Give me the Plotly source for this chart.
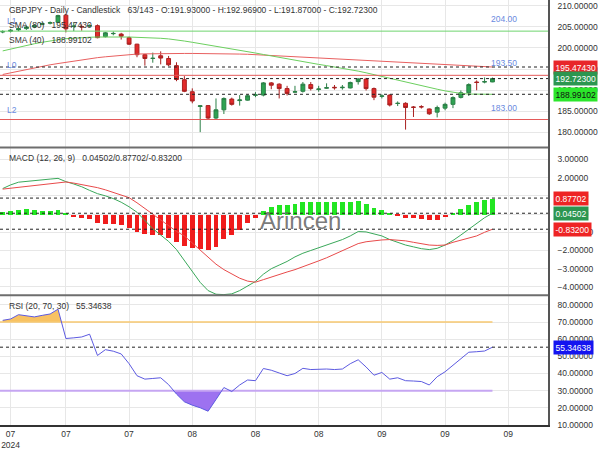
import plotly.graph_objects as go

# ---------------- data ----------------
bars = list(range(63))
opens = [203.8, 204.0, 204.3, 204.6, 205.0, 205.6, 205.9, 206.1, 207.8, 205.1,
         205.1, 205.2, 205.3, 202.7, 203.4, 203.3, 202.45, 200.9, 198.4, 197.5,
         198.15, 197.5, 195.8, 192.45, 189.6, 186.1, 186.3, 183.35, 185.3, 187.85,
         187.5, 187.6, 188.75, 188.8, 191.7, 191.4, 190.35, 189.5, 189.7, 191.3,
         190.15, 190.45, 190.65, 190.55, 190.5, 192.0, 192.6, 190.35, 188.5, 188.8,
         186.8, 186.85, 185.95, 186.05, 185.5, 184.75, 185.7, 186.6, 188.25, 189.35,
         191.9, 191.9, 191.93]
highs = [204.2, 204.5, 204.9, 205.3, 205.6, 206.1, 206.3, 207.9, 208.1, 206.0,
         205.6, 205.6, 205.6, 203.8, 203.9, 203.6, 202.7, 201.0, 198.6, 198.9,
         199.2, 198.1, 196.6, 193.3, 190.4, 186.35, 186.45, 188.0, 188.25, 188.2,
         188.8, 188.9, 189.5, 191.9, 191.9, 191.6, 191.0, 191.0, 191.9, 191.9,
         191.0, 191.6, 191.2, 191.2, 192.0, 192.8, 192.9, 190.6, 189.0, 189.0,
         187.3, 187.1, 186.2, 186.4, 185.6, 186.3, 187.0, 188.5, 189.9, 191.6,
         192.3, 193.0, 192.969]
lows = [203.5, 203.7, 204.0, 204.3, 204.7, 205.4, 205.6, 205.9, 203.7, 204.0,
        204.1, 205.0, 202.3, 202.5, 203.0, 202.0, 200.7, 197.8, 195.8, 196.5,
        196.1, 195.7, 192.1, 189.5, 186.85, 180.0, 183.0, 183.1, 184.3, 186.3,
        186.3, 187.5, 188.3, 188.5, 190.2, 188.0, 188.7, 189.4, 189.4, 189.9,
        189.6, 190.3, 190.1, 190.1, 190.4, 191.3, 189.9, 187.6, 188.0, 186.1,
        186.2, 180.6, 183.6, 185.6, 184.1, 183.5, 185.2, 185.7, 188.0, 188.6,
        189.95, 191.6, 191.87]
closes = [203.9, 204.2, 204.6, 205.0, 205.3, 205.8, 206.0, 207.7, 204.55, 205.2,
          205.0, 205.3, 202.45, 203.6, 203.45, 202.8, 200.9, 198.4, 197.5, 197.55,
          197.6, 196.0, 192.5, 189.7, 187.4, 186.25, 183.35, 185.3, 188.0, 186.6,
          187.65, 188.65, 188.85, 191.7, 191.15, 190.35, 189.2, 189.6, 191.4, 190.35,
          190.25, 190.55, 190.55, 190.65, 191.8, 192.65, 190.35, 188.3, 188.6, 186.45,
          186.85, 185.85, 185.9, 186.0, 184.35, 185.85, 186.6, 188.2, 189.35, 191.3,
          191.8, 192.0, 192.723]
sma80 = [193.7, 194.1, 194.5, 194.9, 195.3, 195.6, 196.0, 196.3, 196.6, 196.9,
         197.2, 197.45, 197.7, 197.9, 198.1, 198.3, 198.45, 198.55, 198.6, 198.65,
         198.7, 198.7, 198.7, 198.7, 198.7, 198.7, 198.7, 198.7, 198.65, 198.6,
         198.55, 198.5, 198.4, 198.3, 198.2, 198.1, 198.0, 197.85, 197.75, 197.6,
         197.5, 197.4, 197.3, 197.25, 197.2, 197.1, 197.0, 196.9, 196.8, 196.7,
         196.6, 196.45, 196.35, 196.25, 196.1, 196.0, 195.9, 195.8, 195.75, 195.65,
         195.6, 195.55, 195.4743]
sma40 = [199.3, 199.75, 200.2, 200.6, 201.0, 201.35, 201.7, 201.95, 202.2, 202.35,
         202.45, 202.55, 202.6, 202.65, 202.65, 202.6, 202.6, 202.55, 202.5, 202.4,
         202.3, 202.15, 201.95, 201.65, 201.35, 201.05, 200.75, 200.45, 200.15, 199.8,
         199.45, 199.1, 198.8, 198.45, 198.1, 197.7, 197.35, 197.0, 196.7, 196.4,
         196.1, 195.8, 195.5, 195.2, 194.9, 194.5, 194.1, 193.65, 193.2, 192.75,
         192.3, 191.85, 191.4, 191.0, 190.6, 190.2, 189.8, 189.45, 189.2, 189.05,
         189.0, 188.99, 188.99102]
macd_line = [1.40, 1.60, 1.75, 1.80, 1.84, 1.88, 1.92, 1.96, 1.78, 1.65,
             1.50, 1.30, 1.12, 1.00, 0.85, 0.65, 0.40, 0.10, -0.35, -0.80,
             -1.15, -1.50, -1.95, -2.55, -3.20, -3.75, -4.20, -4.40, -4.42, -4.38,
             -4.20, -3.95, -3.70, -3.30, -3.00, -2.80, -2.60, -2.35, -2.15, -2.00,
             -1.85, -1.70, -1.55, -1.40, -1.20, -0.96, -0.98, -1.10, -1.20, -1.40,
             -1.55, -1.70, -1.80, -1.90, -1.95, -1.88, -1.70, -1.45, -1.15, -0.85,
             -0.50, -0.20, 0.04502]
macd_signal = [1.37, 1.42, 1.47, 1.52, 1.57, 1.63, 1.68, 1.74, 1.76, 1.70,
               1.62, 1.56, 1.45, 1.33, 1.20, 1.06, 0.90, 0.62, 0.30, -0.02,
               -0.35, -0.65, -0.95, -1.20, -1.60, -2.00, -2.40, -2.75, -3.05, -3.30,
               -3.52, -3.68, -3.74, -3.60, -3.45, -3.32, -3.18, -3.05, -2.90, -2.75,
               -2.57, -2.40, -2.20, -2.00, -1.80, -1.62, -1.52, -1.45, -1.42, -1.40,
               -1.42, -1.47, -1.55, -1.63, -1.70, -1.72, -1.70, -1.55, -1.42, -1.32,
               -1.20, -1.00, -0.832]
macd_hist = [0.12, 0.17, 0.24, 0.28, 0.24, 0.21, 0.19, 0.24, 0.03, -0.15,
             -0.19, -0.22, -0.47, -0.51, -0.54, -0.60, -0.72, -0.96, -1.08, -1.14,
             -1.14, -1.30, -1.51, -1.71, -1.82, -1.91, -1.94, -1.76, -1.37, -1.14,
             -0.87, -0.47, -0.20, 0.21, 0.39, 0.51, 0.53, 0.57, 0.69, 0.69,
             0.69, 0.69, 0.66, 0.66, 0.69, 0.75, 0.60, 0.35, 0.24, 0.03,
             -0.10, -0.19, -0.20, -0.22, -0.28, -0.28, -0.11, 0.06, 0.28, 0.51,
             0.69, 0.80, 0.87702]
rsi = [71.0, 71.8, 74.3, 73.7, 73.0, 73.9, 74.7, 77.5, 60.4, 60.8,
       61.3, 62.9, 50.5, 53.9, 53.0, 51.4, 45.7, 38.7, 36.7, 37.1,
       37.5, 33.5, 28.0, 23.5, 21.5, 20.0, 18.0, 24.8, 31.8, 29.5,
       33.3, 36.2, 35.8, 42.9, 41.9, 40.3, 38.7, 40.0, 43.0, 42.3,
       42.5, 42.6, 42.3, 42.6, 45.7, 48.0, 43.8, 39.0, 40.6, 36.7,
       37.5, 35.8, 35.6, 35.3, 33.3, 38.1, 41.0, 44.8, 48.6, 52.4,
       52.7, 53.1, 55.34638]
for arr in (opens, highs, lows, closes, sma80, sma40, macd_line, macd_signal, macd_hist, rsi):
    assert len(arr) == len(bars)

tick_bars = [1, 8, 16, 24, 32, 40, 48, 56, 64]
tick_text = ["07<br>2024", "07", "07", "08", "08", "08", "09", "09", "09"]
price_ticks = [180, 185, 190, 195, 200, 205, 210]
macd_ticks = [-4, -3, -2, -1, 0, 1, 2, 3]
rsi_ticks = [10, 20, 30, 40, 50, 60, 70, 80]

level_values = [204.0, 193.5, 183.0]
level_names = ["L1", "L0", "L2"]
level_colors = ["#6fd56f", "#e45a5a", "#e45a5a"]
sma80_last = 195.47430
sma40_last = 188.99102
close_last = 192.72300
rsi_over, rsi_under = 70, 30

# ---------------- layout geometry ----------------
W, H = 600, 450
ML, MR, MT, MB = 0, 52, 0, 18
PW, PH = W - ML - MR, H - MT - MB
D_PRICE = [1 - 150 / PH, 1]
D_MACD = [1 - 300 / PH, 1 - 150 / PH]
D_RSI = [0, 1 - 300 / PH]
XR = [-0.342, 69.03]

FONT = "Liberation Sans, Arial, sans-serif"
TXT = "#333333"

def px_x(px):
    return px / PW

def px_y(py):
    return 1 - py / PH

fig = go.Figure()

# candles
fig.add_trace(go.Candlestick(
    x=bars, open=opens, high=highs, low=lows, close=closes,
    increasing=dict(fillcolor="#2ea352", line=dict(color="#2b7f46", width=1)),
    decreasing=dict(fillcolor="#e32a2a", line=dict(color="#a82020", width=1)),
    whiskerwidth=0, xaxis="x", yaxis="y", showlegend=False, hoverinfo="skip"))
fig.add_trace(go.Scatter(x=bars, y=sma80, mode="lines", line=dict(color="#e86060", width=1),
                         xaxis="x", yaxis="y", hoverinfo="skip"))
fig.add_trace(go.Scatter(x=bars, y=sma40, mode="lines", line=dict(color="#6ccf5f", width=1),
                         xaxis="x", yaxis="y", hoverinfo="skip"))

# MACD
fig.add_trace(go.Bar(x=bars, y=macd_hist, width=0.62,
                     marker=dict(color=["#22e622" if v >= 0 else "#f01c1c" for v in macd_hist], line=dict(width=0)),
                     xaxis="x2", yaxis="y2", hoverinfo="skip"))
fig.add_trace(go.Scatter(x=bars, y=macd_line, mode="lines", line=dict(color="#3aa85a", width=1),
                         xaxis="x2", yaxis="y2", hoverinfo="skip"))
fig.add_trace(go.Scatter(x=bars, y=macd_signal, mode="lines", line=dict(color="#e84a4a", width=1),
                         xaxis="x2", yaxis="y2", hoverinfo="skip"))

# RSI fills
def band(xs, ys, level, above):
    polys = []
    cur = []
    def inside(v):
        return v >= level if above else v <= level
    for i in range(len(xs)):
        if inside(ys[i]):
            if not cur and i > 0:
                t = (level - ys[i - 1]) / (ys[i] - ys[i - 1])
                cur.append((xs[i - 1] + t * (xs[i] - xs[i - 1]), level))
            cur.append((xs[i], ys[i]))
        else:
            if cur:
                t = (level - ys[i - 1]) / (ys[i] - ys[i - 1])
                cur.append((xs[i - 1] + t * (xs[i] - xs[i - 1]), level))
                polys.append(cur)
                cur = []
    if cur:
        polys.append(cur)
    px, py = [], []
    for p in polys:
        xs_ = [q[0] for q in p]
        ys_ = [q[1] for q in p]
        px += xs_ + [xs_[-1], xs_[0], xs_[0], None]
        py += ys_ + [level, level, ys_[0], None]
    return px, py

ox, oy = band(bars, rsi, rsi_over, True)
fig.add_trace(go.Scatter(x=ox, y=oy, mode="lines", fill="toself", fillcolor="#f8c262",
                         line=dict(width=0), xaxis="x3", yaxis="y3", hoverinfo="skip"))
ux, uy = band(bars, rsi, rsi_under, False)
fig.add_trace(go.Scatter(x=ux, y=uy, mode="lines", fill="toself", fillcolor="#9d72f0",
                         line=dict(width=0), xaxis="x3", yaxis="y3", hoverinfo="skip"))
fig.add_trace(go.Scatter(x=[XR[0], bars[-1]], y=[rsi_over, rsi_over], mode="lines",
                         line=dict(color="#f7c870", width=1.5), xaxis="x3", yaxis="y3", hoverinfo="skip"))
fig.add_trace(go.Scatter(x=[XR[0], bars[-1]], y=[rsi_under, rsi_under], mode="lines",
                         line=dict(color="#c6a6f2", width=2), xaxis="x3", yaxis="y3", hoverinfo="skip"))
fig.add_trace(go.Scatter(x=bars, y=rsi, mode="lines", line=dict(color="#5c5ae0", width=1),
                         xaxis="x3", yaxis="y3", hoverinfo="skip"))

shapes = []
annotations = []

# level lines
for v, c in zip(level_values, level_colors):
    shapes.append(dict(type="line", xref="paper", x0=0, x1=1, yref="y", y0=v, y1=v,
                       line=dict(color=c, width=1)))
def dashed(yref, v):
    shapes.append(dict(type="line", xref="paper", x0=0, x1=1, yref=yref, y0=v, y1=v,
                       line=dict(color="#222222", width=1, dash="3px,3px")))
for v in (sma80_last, close_last, sma40_last):
    dashed("y", v)
for v in (macd_hist[-1], macd_line[-1], macd_signal[-1]):
    dashed("y2", v)
dashed("y3", rsi[-1])

# panel separators
for py in (150, 300):
    shapes.append(dict(type="line", xref="paper", x0=0, x1=1, yref="paper", y0=px_y(py), y1=px_y(py),
                       line=dict(color="#6e6e6e", width=2)))

# level labels
for v, name in zip(level_values, level_names):
    annotations.append(dict(text=f"{v:.2f}", xref="paper", x=px_x(504), yref="y", y=v, yshift=5,
                            xanchor="center", yanchor="bottom", showarrow=False,
                            font=dict(family=FONT, size=8.5, color="#6a8ae0")))
    annotations.append(dict(text=name, xref="paper", x=px_x(5), yref="y", y=v, yshift=3,
                            xanchor="left", yanchor="bottom", showarrow=False,
                            font=dict(family=FONT, size=8.5, color="#6a8ae0")))

# headers
def header(text, py):
    annotations.append(dict(text=text, xref="paper", x=px_x(7), yref="paper", y=px_y(py),
                            xanchor="left", yanchor="middle", showarrow=False,
                            font=dict(family=FONT, size=8.5, color=TXT)))
header("GBPJPY - Daily - Candlestick&nbsp;&nbsp;&nbsp;63/143 - O:191.93000 - H:192.96900 - L:191.87000 - C:192.72300", 10.5)
header(f"SMA (80)&nbsp;&nbsp;&nbsp;{sma80_last:.5f}", 25)
header(f"SMA (40)&nbsp;&nbsp;&nbsp;{sma40_last:.5f}", 41)
header(f"MACD (12, 26, 9)&nbsp;&nbsp;&nbsp;{macd_line[-1]:.5f}/{macd_hist[-1]:.5f}/{macd_signal[-1]:.5f}", 161)
header(f"RSI (20, 70, 30)&nbsp;&nbsp;&nbsp;{rsi[-1]:.5f}", 311.5)

# right side value boxes
def box(yref, v, bg, fg="white"):
    annotations.append(dict(text=f"{v:.5f}", xref="paper", x=1, xshift=5, yref=yref, y=v,
                            xanchor="left", yanchor="middle", showarrow=False, bgcolor=bg,
                            borderpad=1.5, font=dict(family=FONT, size=8.5, color=fg)))
box("y", sma80_last, "#e8262a")
box("y", close_last, "#2c9650")
box("y", sma40_last, "#2be62b", "#111111")
box("y2", macd_hist[-1], "#ee2424")
box("y2", macd_line[-1], "#2c9650")
box("y2", macd_signal[-1], "#ee2424")
box("y3", rsi[-1], "#1414f0")

# watermark
annotations.append(dict(text="Arincen", xref="paper", x=px_x(300), yref="paper", y=px_y(224),
                        xanchor="center", yanchor="middle", showarrow=False,
                        font=dict(family=FONT, size=24, color="rgba(100,100,100,0.85)")))

grid = "#e7e7e7"
def yax(domain, rng, ticks, anchor):
    return dict(domain=domain, range=rng, side="right", anchor=anchor, tickvals=ticks,
                tickformat=".5f", showgrid=True, gridcolor=grid, zeroline=False,
                showline=True, linecolor="#555555", linewidth=1.5, ticks="",
                ticklabelstandoff=6, tickfont=dict(family=FONT, size=8.5, color=TXT), fixedrange=True)

def xax(anchor, labels):
    d = dict(range=XR, anchor=anchor, domain=[0, 1], tickvals=tick_bars, ticktext=tick_text,
             showgrid=True, gridcolor=grid, zeroline=False, showticklabels=labels,
             ticks="", tickfont=dict(family=FONT, size=8.5, color=TXT),
             rangeslider=dict(visible=False), fixedrange=True)
    if labels:
        d.update(showline=True, linecolor="#333333", linewidth=1.5)
    return d

fig.update_layout(
    width=W, height=H, margin=dict(l=ML, r=MR, t=MT, b=MB),
    paper_bgcolor="white", plot_bgcolor="white", showlegend=False, bargap=0,
    xaxis=xax("y", False), xaxis2=dict(xax("y2", False), matches="x"),
    xaxis3=dict(xax("y3", True), matches="x"),
    yaxis=yax(D_PRICE, [176.33, 211.40], price_ticks, "x"),
    yaxis2=yax(D_MACD, [-4.45, 3.65], macd_ticks, "x2"),
    yaxis3=yax(D_RSI, [9.95, 85.7], rsi_ticks, "x3"),
    shapes=shapes, annotations=annotations,
)

fig.write_html("out.html", config={"displayModeBar": False},
               post_script="document.body.style.margin='0';document.body.style.padding='0';")
